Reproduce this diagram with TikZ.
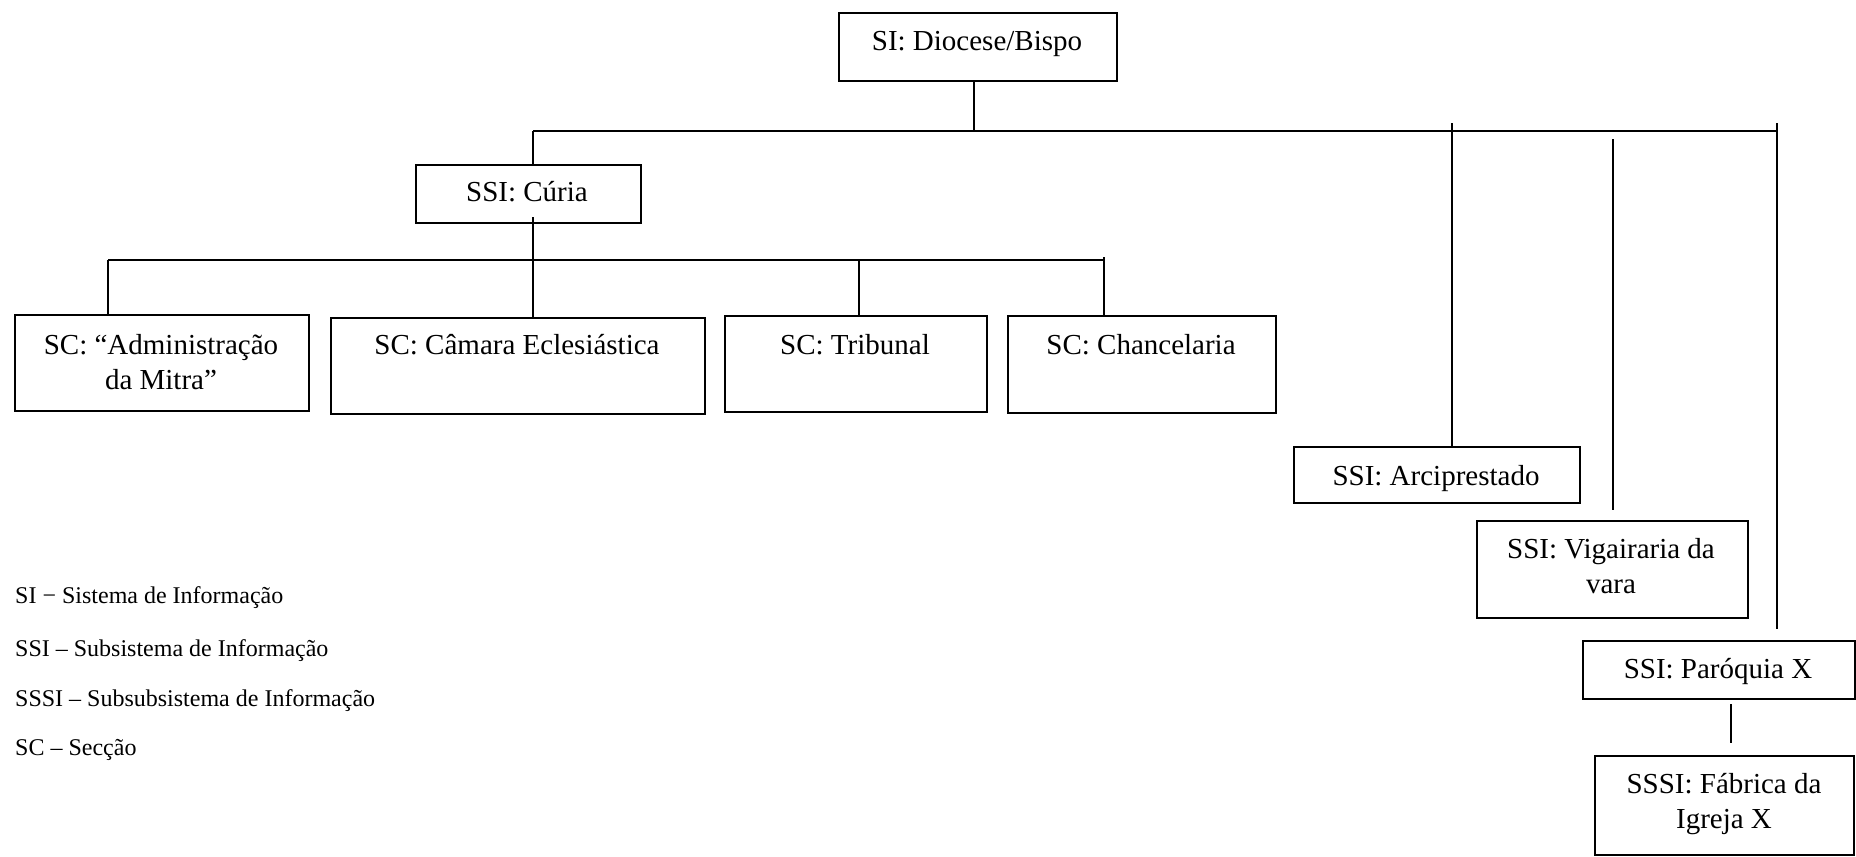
\documentclass[tikz,border=0pt]{standalone}
\usepackage{fontspec}
\setmainfont{Liberation Serif}
\begin{document}
\begin{tikzpicture}[x=1pt,y=-1pt,
  box/.style={draw=black,line width=1.6pt,inner sep=0pt,anchor=north west},
  lbl/.style={inner sep=0pt,align=center,font=\fontsize{29}{35}\selectfont,anchor=base},
  legend/.style={inner sep=0pt,anchor=base west,font=\fontsize{24}{28}\selectfont},
  link/.style={draw=black,line width=1.4pt}]
\useasboundingbox[fill=white] (0,0) rectangle (1856,857);

% boxes
\node[box,minimum width=278pt,minimum height=68pt] (diocese) at (838,12) {};
\node[box,minimum width=225pt,minimum height=58pt] (curia) at (415,164) {};
\node[box,minimum width=294pt,minimum height=96pt] (admin) at (14,314) {};
\node[box,minimum width=374pt,minimum height=96pt] (camara) at (330,317) {};
\node[box,minimum width=262pt,minimum height=96pt] (tribunal) at (724,315) {};
\node[box,minimum width=268pt,minimum height=97pt] (chanc) at (1007,315) {};
\node[box,minimum width=286pt,minimum height=56pt] (arci) at (1293,446) {};
\node[box,minimum width=271pt,minimum height=97pt] (vig) at (1476,520) {};
\node[box,minimum width=272pt,minimum height=58pt] (par) at (1582,640) {};
\node[box,minimum width=259pt,minimum height=99pt] (fab) at (1594,755) {};

% box texts (two-line texts are placed by their last baseline)
\node[lbl] (dioceseT) at (977,50) {SI: Diocese/Bispo};
\node[lbl] (curiaT) at (527,201) {SSI: Cúria};
\node[lbl] (adminT) at (161,389) {SC: “Administração\\da Mitra”};
\node[lbl] (camaraT) at (517,354) {SC: Câmara Eclesiástica};
\node[lbl] (tribunalT) at (855,354) {SC: Tribunal};
\node[lbl] (chancT) at (1141,354) {SC: Chancelaria};
\node[lbl] (arciT) at (1436,485) {SSI: Arciprestado};
\node[lbl] (vigT) at (1611,593) {SSI: Vigairaria da\\vara};
\node[lbl] (parT) at (1718,678) {SSI: Paróquia X};
\node[lbl] (fabT) at (1724,828) {SSSI: Fábrica da\\Igreja X};

% top-level bar
\coordinate (topL) at (533,131);
\coordinate (topR) at (1778,131);
\draw[link] (topL) -- (topR);
\draw[link] (diocese.south -| 974,0) -- (974,130);
\draw[link] (topL) -- (curia.north -| topL);
\draw[link] (1452,123) -- (arci.north -| 1452,0);
\coordinate (vigTop) at (1613,139);
\draw[link] (vigTop) -- (1613,510);
\draw[link] (1777,123) -- (1777,629);
\draw[link] (1731,704) -- (1731,743);

% section bar under the Curia
\coordinate (secL) at (108,260);
\coordinate (secR) at (1104,260);
\draw[link] (secL) -- (secR);
\draw[link] (533,217) -- (camara.north -| 533,0);
\draw[link] (secL) -- (admin.north -| secL);
\draw[link] (859,260) -- (tribunal.north -| 859,0);
\draw[link] (1104,257) -- (chanc.north -| secR);

% legend
\node[legend] (leg1) at (15,603) {SI − Sistema de Informação};
\node[legend] (leg2) at (15,656) {SSI – Subsistema de Informação};
\node[legend] (leg3) at (15,706) {SSSI – Subsubsistema de Informação};
\node[legend] (leg4) at (15,755) {SC – Secção};
\end{tikzpicture}
\end{document}
